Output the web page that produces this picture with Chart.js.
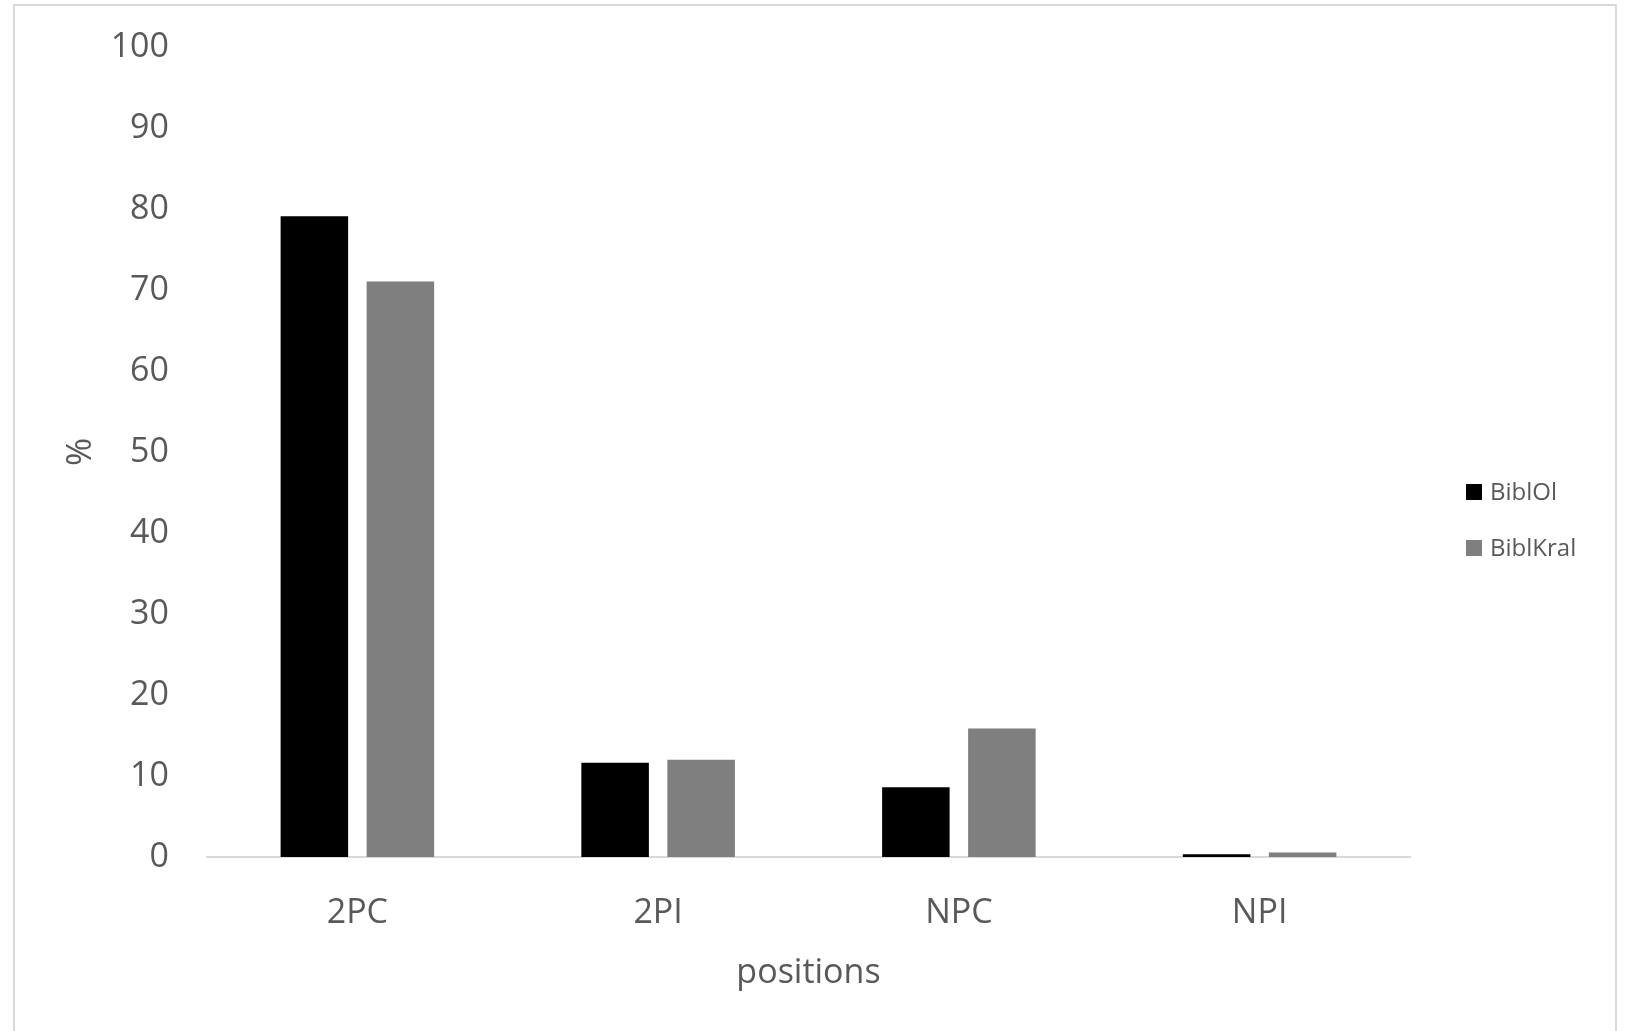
<!DOCTYPE html>
<html>
<head>
<meta charset="utf-8">
<script src="https://cdn.jsdelivr.net/npm/chart.js@4/dist/chart.umd.min.js"></script>
<style>
  html, body { margin: 0; padding: 0; background: #ffffff; }
  #wrap { position: relative; width: 1631px; height: 1031px; overflow: hidden; }
  #frame {
    position: absolute; left: 13px; top: 4px; width: 1600px; height: 1100px;
    border: 2px solid #d9d9d9; pointer-events: none;
  }
  canvas { position: absolute; left: 0; top: 0; }
</style>
</head>
<body>
<div id="wrap">
  <canvas id="chart" width="1631" height="1031"></canvas>
  <div id="frame"></div>
</div>
<script>
// Share of each position type per corpus (%)
const categories = ['2PC', '2PI', 'NPC', 'NPI'];
const seriesNames = ['BiblOl', 'BiblKral'];
const biblOl = [79.1, 11.65, 8.6, 0.35];
const biblKral = [71.05, 12.0, 15.85, 0.55];
const seriesColors = ['#000000', '#7f7f7f'];
const yTicks = [0, 10, 20, 30, 40, 50, 60, 70, 80, 90, 100];

const FONT = '"Open Sans", "DejaVu Sans", sans-serif';
const TEXT = '#595959';

// Legend drawn on the right, one row per dataset
const sideLegend = {
  id: 'sideLegend',
  afterDraw(chart) {
    const ctx = chart.ctx;
    ctx.save();
    ctx.font = '24px ' + FONT;
    ctx.textBaseline = 'middle';
    ctx.textAlign = 'left';
    chart.data.datasets.forEach((ds, i) => {
      const cy = 492 + i * 56;
      ctx.fillStyle = ds.backgroundColor;
      ctx.fillRect(1466, cy - 8, 16, 16);
      ctx.fillStyle = TEXT;
      ctx.fillText(ds.label, 1490, cy + 1);
    });
    ctx.restore();
  }
};

new Chart(document.getElementById('chart'), {
  type: 'bar',
  data: {
    labels: categories,
    datasets: [
      { label: seriesNames[0], data: biblOl, backgroundColor: seriesColors[0] },
      { label: seriesNames[1], data: biblKral, backgroundColor: seriesColors[1] }
    ]
  },
  options: {
    responsive: false,
    animation: false,
    devicePixelRatio: 1,
    barPercentage: 0.785,
    categoryPercentage: 0.572,
    layout: { padding: { left: 20, right: 221, top: 47, bottom: 0 } },
    plugins: {
      legend: { display: false },
      tooltip: { enabled: false }
    },
    scales: {
      x: {
        grid: { display: false, drawTicks: false },
        border: { display: true, color: '#d9d9d9', width: 2 },
        ticks: { color: TEXT, font: { family: FONT, size: 34 }, padding: 36 },
        title: {
          display: true, text: 'positions', color: TEXT,
          font: { family: FONT, size: 34 }, padding: { top: 0, bottom: 37 }
        },
        afterFit(scale) { scale.height = 174; }
      },
      y: {
        min: 0, max: 100,
        // tick marks hidden; their length only spaces the labels from the plot
        grid: { display: false, drawTicks: true, tickLength: 38 },
        border: { display: false },
        afterBuildTicks(scale) { scale.ticks = yTicks.map(v => ({ value: v })); },
        ticks: { color: TEXT, font: { family: FONT, size: 34 }, padding: 0 },
        title: {
          display: true, text: '%', color: TEXT,
          font: { family: FONT, size: 34 }, padding: { top: 41, bottom: 0 }
        },
        afterFit(scale) { scale.width = 187; }
      }
    }
  },
  plugins: [sideLegend]
});
</script>
</body>
</html>
